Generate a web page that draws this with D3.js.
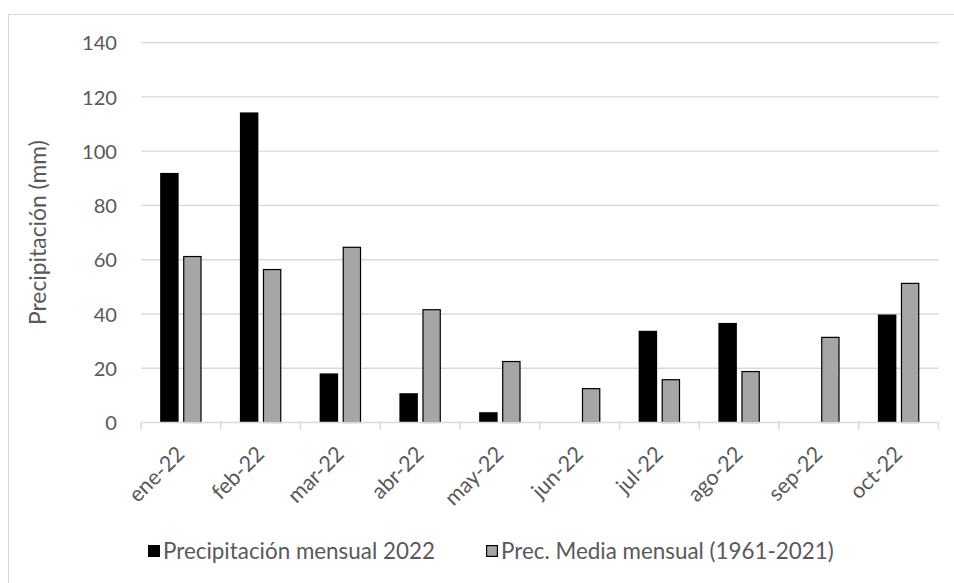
<!DOCTYPE html>
<html>
<head>
<meta charset="utf-8">
<script src="https://cdn.jsdelivr.net/npm/d3@7"></script>
<style>
  html, body { margin: 0; padding: 0; background: #fff; }
  svg { display: block; }
  text { font-family: Lato, "Open Sans", sans-serif; fill: #595959; }
</style>
</head>
<body>
<svg id="chart" width="954" height="583"></svg>
<script>
// Monthly precipitation, 2022 vs. the 1961-2021 monthly mean
const months = ["ene-22", "feb-22", "mar-22", "abr-22", "may-22", "jun-22", "jul-22", "ago-22", "sep-22", "oct-22"];
const precip2022 = [92, 114.3, 18.1, 10.8, 3.8, null, 33.8, 36.7, null, 39.8];
const precipMean = [61.4, 56.6, 64.8, 41.8, 22.7, 12.7, 16.0, 19.0, 31.6, 51.5];
const yTicks = [0, 20, 40, 60, 80, 100, 120, 140];
const seriesNames = ["Precipitación mensual 2022", "Prec. Media mensual (1961-2021)"];
const seriesFill = ["#000000", "#a6a6a6"];

const svg = d3.select("#chart");
const plot = { left: 141, right: 938.5, top: 42.7, bottom: 422.5 };

// size a group of labels so that one reference label spans the given width
function fitFont(sel, refNode, width) {
  sel.style("font-size", "100px");
  const len = refNode.getComputedTextLength();
  sel.style("font-size", (100 * width / len).toFixed(2) + "px");
}

// chart frame (runs past the right and bottom edges of the canvas)
svg.append("rect")
  .attr("x", 8.5).attr("y", 14.5)
  .attr("width", 960).attr("height", 600)
  .attr("fill", "#fff").attr("stroke", "#d9d9d9").attr("stroke-width", 1);

const x0 = d3.scaleBand().domain(months).range([plot.left, plot.right]).padding(0);
const bw = x0.bandwidth();
const x1 = d3.scaleBand().domain([0, 1]).range([bw * 0.24, bw * 0.76]).paddingInner(0.196);
const y = d3.scaleLinear().domain([0, 140]).range([plot.bottom, plot.top]);

// horizontal gridlines
svg.append("g").selectAll("line")
  .data(yTicks.filter(t => t > 0))
  .join("line")
  .attr("x1", plot.left).attr("x2", plot.right)
  .attr("y1", d => y(d)).attr("y2", d => y(d))
  .attr("stroke", "#d9d9d9").attr("stroke-width", 1.3);

// y tick labels
const yAxis = d3.axisLeft(y).tickValues(yTicks).tickSize(0).tickPadding(0);
const gy = svg.append("g").attr("transform", `translate(117,0)`).call(yAxis);
gy.select(".domain").remove();
const yLabels = gy.selectAll("text")
  .attr("fill", "#595959")
  .style("font-family", "Lato, sans-serif")
  .attr("dy", "0.36em");
fitFont(yLabels, yLabels.filter(d => d === 140).node(), 35);

// y axis title
const yTitle = svg.append("text")
  .attr("transform", `translate(38,${(plot.top + plot.bottom) / 2}) rotate(-90)`)
  .attr("text-anchor", "middle")
  .attr("dy", "0.35em")
  .text("Precipitación (mm)");
fitFont(yTitle, yTitle.node(), 185);

// bars
const rows = months.map((m, i) => ({ m, vals: [precip2022[i], precipMean[i]] }));
const groups = svg.append("g").selectAll("g")
  .data(rows).join("g")
  .attr("transform", d => `translate(${x0(d.m)},0)`);

groups.selectAll("rect")
  .data(d => d.vals.map((v, k) => ({ v, k })).filter(e => e.v != null))
  .join("rect")
  .attr("x", e => x1(e.k) + (e.k === 1 ? 0.6 : 0))
  .attr("width", e => x1.bandwidth() - (e.k === 1 ? 1.2 : 0))
  .attr("y", e => y(e.v) + (e.k === 1 ? 0.6 : 0))
  .attr("height", e => y(0) - y(e.v) - (e.k === 1 ? 0.6 : 0))
  .attr("fill", e => seriesFill[e.k])
  .attr("stroke", e => e.k === 1 ? "#000" : "none")
  .attr("stroke-width", 1.2);

// x axis line with category ticks
const gx = svg.append("g").attr("transform", `translate(0,${plot.bottom})`);
gx.append("line")
  .attr("x1", plot.left).attr("x2", plot.right)
  .attr("y1", 0).attr("y2", 0)
  .attr("stroke", "#d9d9d9").attr("stroke-width", 1.5);
gx.selectAll("line.tk")
  .data(months.concat([null]))
  .join("line").attr("class", "tk")
  .attr("x1", (d, i) => plot.left + i * bw).attr("x2", (d, i) => plot.left + i * bw)
  .attr("y1", 0).attr("y2", 7)
  .attr("stroke", "#d9d9d9").attr("stroke-width", 1.5);

// rotated category labels
const xLabels = gx.selectAll("text.lbl")
  .data(months)
  .join("text").attr("class", "lbl")
  .attr("transform", d => `translate(${x0(d) + bw / 2 + 5},33) rotate(-45)`)
  .attr("text-anchor", "end")
  .text(d => d);
fitFont(xLabels, xLabels.node(), 68);

// legend
const legend = svg.append("g").attr("transform", "translate(0,551)");
const legX = [148, 486];
const legTexts = [];
seriesNames.forEach((name, k) => {
  legend.append("rect")
    .attr("x", legX[k] + (k === 1 ? 0.6 : 0)).attr("y", -6 + (k === 1 ? 0.6 : 0))
    .attr("width", 12 - (k === 1 ? 1.2 : 0)).attr("height", 12 - (k === 1 ? 1.2 : 0))
    .attr("fill", seriesFill[k])
    .attr("stroke", k === 1 ? "#000" : "none").attr("stroke-width", 1.2);
  legTexts.push(legend.append("text")
    .attr("x", legX[k] + 15).attr("y", 0)
    .attr("dy", "0.35em")
    .text(name).node());
});
fitFont(d3.selectAll(legTexts), legTexts[0], 272);
</script>
</body>
</html>
